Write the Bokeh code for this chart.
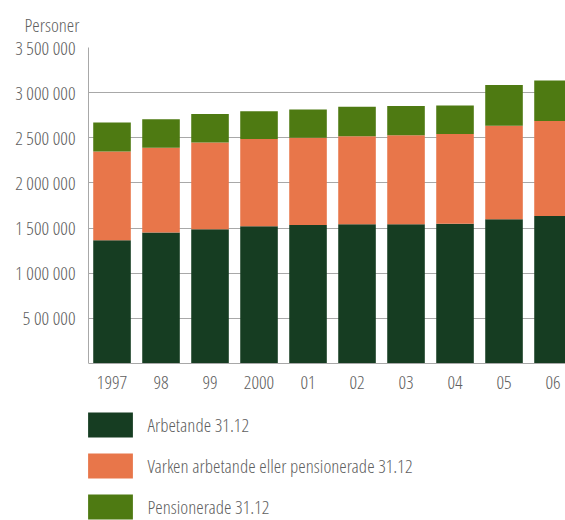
from bokeh.plotting import figure
from bokeh.models import Range1d, FixedTicker, Legend, Title
from bokeh.embed import file_html
from bokeh.resources import INLINE

# ---- data ----
years = ["1997", "98", "99", "2000", "01", "02", "03", "04", "05", "06"]
arbetande = [1365000, 1452000, 1487000, 1520000, 1534000, 1542000, 1542000, 1550000, 1600000, 1634000]
varken = [983000, 939000, 962000, 966000, 968000, 975000, 986000, 993000, 1035000, 1052000]
pensionerade = [323000, 316000, 315000, 308000, 313000, 327000, 324000, 316000, 449000, 449000]
series_names = ["Arbetande 31.12", "Varken arbetande eller pensionerade 31.12", "Pensionerade 31.12"]
y_ticks = [500000, 1000000, 1500000, 2000000, 2500000, 3000000, 3500000]
y_tick_labels = ["5 00 000", "1 000 000", "1 500 000", "2 000 000", "2 500 000", "3 000 000", "3 500 000"]
y_unit = "Personer"

colors = ["#163d22", "#e8764a", "#4e7a12"]
FONT = "Open Sans Condensed Light"
TXT = "#5f5f5f"
GRID = "#a8a8a8"

Y_TOP = 3500000
Y_BOTTOM = Y_TOP - Y_TOP * 475 / 317.5   # frame runs to the bottom edge; legend sits inside it

xs = list(range(len(years)))
data = {"x": xs, "a": arbetande, "v": varken, "p": pensionerade}

p = figure(width=565, height=520, output_backend="svg", toolbar_location=None,
           x_range=Range1d(-0.48, -0.48 + 477 / 49), y_range=Range1d(Y_BOTTOM, Y_TOP),
           min_border_left=88, min_border_right=0, min_border_top=45, min_border_bottom=0)
p.outline_line_color = None

r = p.vbar_stack(["a", "v", "p"], x="x", width=0.767, color=colors, line_color=None,
                 source=data)

p.yaxis.ticker = FixedTicker(ticks=y_ticks)
p.yaxis.major_label_overrides = {t: s for t, s in zip(y_ticks, y_tick_labels)}
p.yaxis.bounds = (0, Y_TOP)
p.xaxis.ticker = FixedTicker(ticks=xs)
p.xaxis.major_label_overrides = {i: s for i, s in enumerate(years)}
p.xaxis.fixed_location = 0
for ax in (p.xaxis[0], p.yaxis[0]):
    ax.major_tick_line_color = None
    ax.minor_tick_line_color = None
    ax.axis_line_color = GRID
    ax.major_label_text_font = FONT
    ax.major_label_text_font_size = "19px"
    ax.major_label_text_color = TXT
p.yaxis.major_label_standoff = 7
p.xaxis.major_label_standoff = 6

p.xgrid.grid_line_color = None
p.ygrid.ticker = FixedTicker(ticks=y_ticks)
p.ygrid.grid_line_color = GRID

p.add_layout(Title(text=y_unit, align="left", offset=-64, standoff=19,
                   text_font=FONT, text_font_size="19px",
                   text_font_style="normal", text_color=TXT), "above")

# Bokeh insets legend swatches by 10% per side, so enlarge them to draw 45x25 boxes
legend = Legend(items=[(n, [rr]) for n, rr in zip(series_names, r)],
                location=(-5.6, -2.2), orientation="vertical",
                glyph_width=56, glyph_height=31, label_standoff=9,
                spacing=10, padding=0, margin=0,
                label_text_font=FONT, label_text_font_size="19px",
                label_text_color=TXT,
                border_line_color=None, background_fill_alpha=0)
p.add_layout(legend, "center")

open("out.html", "w").write(file_html(p, INLINE))
